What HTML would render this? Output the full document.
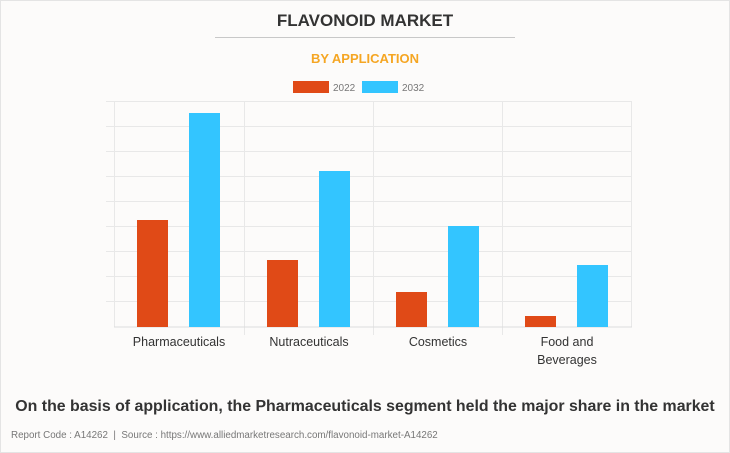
<!DOCTYPE html>
<html><head><style>
body{margin:0;width:730px;height:453px;overflow:hidden;background:#fff;font-family:"Liberation Sans",sans-serif}
.frame{position:absolute;left:0;top:0;width:728px;height:451px;border:1px solid #e4e4e4;background:#fcfbfa}
.t{position:absolute;left:0;width:730px;text-align:center}
</style></head><body>
<div class="frame"></div>
<div class="t" style="top:11px;font-size:17px;font-weight:bold;color:#333">FLAVONOID MARKET</div>
<div style="position:absolute;left:215px;top:37px;width:300px;height:1px;background:#c8c8c8"></div>
<div class="t" style="top:51px;font-size:13px;font-weight:bold;color:#f5a623">BY APPLICATION</div>
<svg width="730" height="453" style="position:absolute;left:0;top:0">
<rect x="293" y="81" width="36" height="12" fill="#e04a17"/>
<text x="333" y="91" font-size="10" fill="#777" font-family="Liberation Sans">2022</text>
<rect x="362" y="81" width="36" height="12" fill="#33c5ff"/>
<text x="402" y="91" font-size="10" fill="#777" font-family="Liberation Sans">2032</text>
<g stroke="#e8e8e8" stroke-width="1">
<line x1="106" x2="632" y1="101.5" y2="101.5"/>
<line x1="106" x2="632" y1="126.5" y2="126.5"/>
<line x1="106" x2="632" y1="151.5" y2="151.5"/>
<line x1="106" x2="632" y1="176.5" y2="176.5"/>
<line x1="106" x2="632" y1="201.5" y2="201.5"/>
<line x1="106" x2="632" y1="226.5" y2="226.5"/>
<line x1="106" x2="632" y1="251.5" y2="251.5"/>
<line x1="106" x2="632" y1="276.5" y2="276.5"/>
<line x1="106" x2="632" y1="301.5" y2="301.5"/>
<line x1="114.5" x2="114.5" y1="101" y2="327"/>
<line x1="244.5" x2="244.5" y1="101" y2="335"/>
<line x1="373.5" x2="373.5" y1="101" y2="335"/>
<line x1="502.5" x2="502.5" y1="101" y2="335"/>
<line x1="631.5" x2="631.5" y1="101" y2="327"/>
</g>
<line x1="114" x2="632" y1="327" y2="327" stroke="#ddd"/>
<g fill="#e04a17">
<rect x="137" y="220" width="31" height="107"/>
<rect x="267" y="260" width="31" height="67"/>
<rect x="396" y="292" width="31" height="35"/>
<rect x="525" y="316" width="31" height="11"/>
</g>
<g fill="#33c5ff">
<rect x="189" y="113" width="31" height="214"/>
<rect x="319" y="171" width="31" height="156"/>
<rect x="448" y="226" width="31" height="101"/>
<rect x="577" y="265" width="31" height="62"/>
</g>
<g font-size="12.5" fill="#333" font-family="Liberation Sans" text-anchor="middle">
<text x="179" y="346">Pharmaceuticals</text>
<text x="309" y="346">Nutraceuticals</text>
<text x="438" y="346">Cosmetics</text>
<text x="567" y="346">Food and</text>
<text x="567" y="364">Beverages</text>
</g>
</svg>
<div class="t" style="top:398px;font-size:15.9px;font-weight:bold;color:#333">On the basis of application, the Pharmaceuticals segment held the major share in the market</div>
<div style="position:absolute;left:11px;top:430px;font-size:9.8px;color:#777">Report Code : A14262 &nbsp;|&nbsp; Source : https://www.alliedmarketresearch.com/flavonoid-market-A14262</div>
</body></html>
